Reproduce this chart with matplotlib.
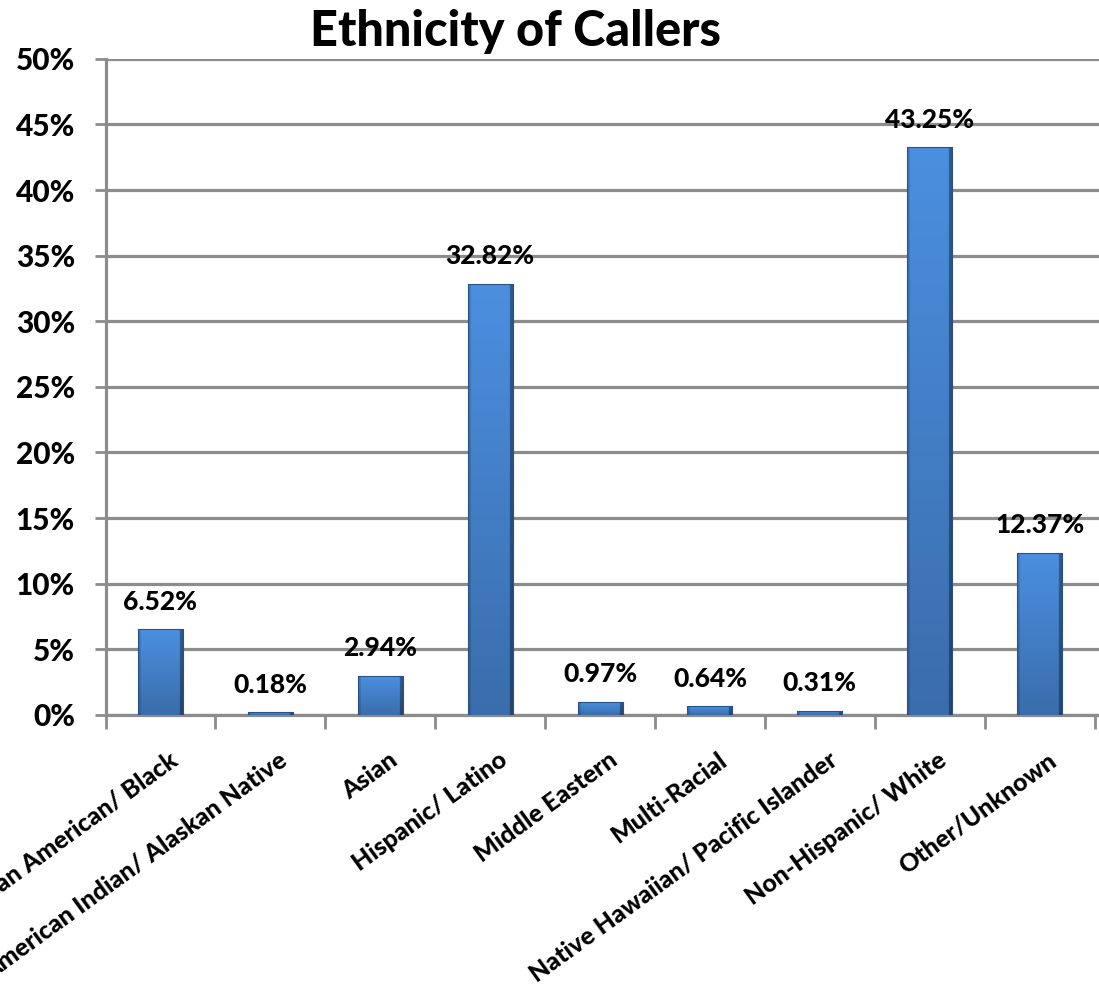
import matplotlib.pyplot as plt
import numpy as np
from matplotlib.ticker import FuncFormatter

plt.rcParams['font.family'] = ['Lato', 'DejaVu Sans']

# share of callers per ethnicity, percent
groups = ['African American/ Black', 'American Indian/ Alaskan Native', 'Asian',
          'Hispanic/ Latino', 'Middle Eastern', 'Multi-Racial',
          'Native Hawaiian/ Pacific Islander', 'Non-Hispanic/ White', 'Other/Unknown']
share = [6.52, 0.18, 2.94, 32.82, 0.97, 0.64, 0.31, 43.25, 12.37]

fig = plt.figure(figsize=(10.99, 9.97), dpi=100)
ax = fig.add_axes([0.096, 0.283, 0.904, 0.658])

x = np.arange(len(groups))
bar_w = 0.41
bars = ax.bar(x, share, width=bar_w, color='#3a74c0', edgecolor='none', zorder=3)

# shaded fill for each bar: lighter towards the top, thin dark rim at the sides
nx, ny = 80, 80
gx = np.linspace(0, 1, nx)
gy = np.linspace(0, 1, ny)
hx = np.ones(nx)
hx[gx < 0.06] = 0.85
hx[gx > 0.92] = 0.62
vy = 0.78 + 0.24 * gy
shade = np.outer(vy, hx)
top = np.array([0.29, 0.55, 0.86])
img = np.clip(shade[..., None] * top[None, None, :], 0, 1)
for b in bars:
    x0, w, h = b.get_x(), b.get_width(), b.get_height()
    im = ax.imshow(img, extent=[x0, x0 + w, 0, h], origin='lower',
                   aspect='auto', zorder=3.5, interpolation='bilinear')
    im.set_clip_path(b)
    ax.add_patch(plt.Rectangle((x0, 0), w, h, fill=False, edgecolor='#2a5088',
                               linewidth=0.8, zorder=4))

for xi, v in zip(x, share):
    ax.annotate(f'{v:.2f}%', (xi, v), xytext=(0, 20), textcoords='offset points',
                ha='center', va='center', fontsize=19, fontweight='black')

ax.set_ylim(0, 50)
ax.set_xlim(-0.5, 8.54)
ax.set_yticks(np.arange(0, 51, 5))
ax.yaxis.set_major_formatter(FuncFormatter(lambda v, p: f'{v:.0f}%'))
ax.yaxis.grid(True, color='#8c8c8c', linewidth=2.3, zorder=1)
ax.tick_params(axis='y', length=8, width=2, color='#8c8c8c', labelsize=21.5, pad=14)
for t in ax.get_yticklabels():
    t.set_fontweight('black')

# boundary ticks between categories, names on the minor ticks
ax.set_xticks(np.arange(-0.5, 8.6, 1.0))
ax.set_xticklabels([])
ax.set_xticks(x + 0.07, minor=True)
ax.set_xticklabels(groups, minor=True, rotation=36, ha='right',
                   rotation_mode='anchor', fontsize=18, fontweight='black')
ax.tick_params(axis='x', which='major', length=10, width=2, color='#8c8c8c')
ax.tick_params(axis='x', which='minor', length=0, pad=24)

for s in ['top', 'right']:
    ax.spines[s].set_visible(False)
for s in ['left', 'bottom']:
    ax.spines[s].set_color('#8c8c8c')
    ax.spines[s].set_linewidth(2.3)

fig.text(515 / 1099, 1 - 32 / 997, 'Ethnicity of Callers', ha='center', va='center',
         fontsize=35, fontweight='black')

fig.savefig('out.png', dpi=100)
